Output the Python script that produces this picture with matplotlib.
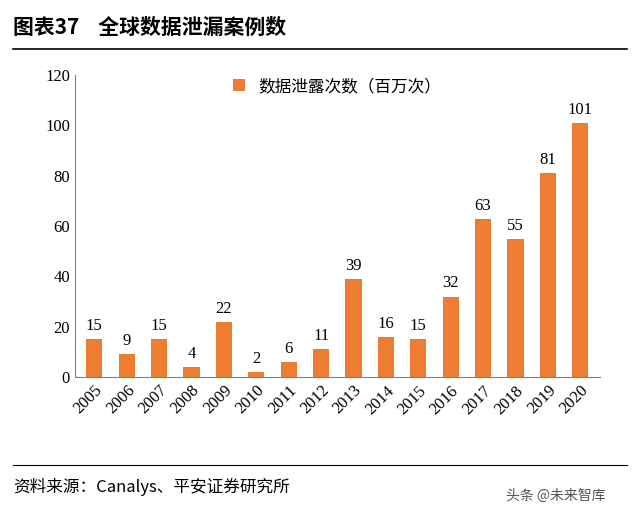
import matplotlib.pyplot as plt
from matplotlib.lines import Line2D

years = [str(y) for y in range(2005, 2021)]
counts = [15, 9, 15, 4, 22, 2, 6, 11, 39, 16, 15, 32, 63, 55, 81, 101]
yticks = [0, 20, 40, 60, 80, 100, 120]

cjk = "Noto Sans CJK SC"
serif = "Liberation Serif"
orange = "#ED7D31"

fig = plt.figure(figsize=(6.4, 5.15), dpi=100)
ax = fig.add_axes([0.117, 0.268, 0.82, 0.586])
x = range(len(years))
bars = ax.bar(x, counts, width=0.5, color=orange, label="数据泄露次数（百万次）")
for xi, v in zip(x, counts):
    ax.text(xi, v + 2, str(v), ha="center", va="bottom", fontsize=12, fontfamily=serif)
ax.set_ylim(0, 120)
ax.set_xlim(-0.6, len(years) - 0.4)
ax.set_yticks(yticks)
ax.set_yticklabels([str(t) for t in yticks], fontfamily=serif, fontsize=12)
ax.set_xticks(list(x))
ax.set_xticklabels(years, rotation=45, ha="right", rotation_mode="anchor", fontfamily=serif, fontsize=12)
ax.tick_params(axis="x", length=0, pad=4)
ax.tick_params(axis="y", length=0)
for s in ["top", "right"]:
    ax.spines[s].set_visible(False)
ax.spines["left"].set_color("#808080")
ax.spines["bottom"].set_color("#808080")
ax.legend(loc="upper center", frameon=False, prop={"family": cjk, "size": 12},
          handlelength=0.7, handleheight=0.7, bbox_to_anchor=(0.5, 1.04))

fig.text(0.02, 0.935, "图表37    全球数据泄漏案例数", fontfamily=cjk, fontsize=15, fontweight="bold")
fig.add_artist(Line2D([0.02, 0.98], [0.905, 0.905], color="black", lw=1.2))
fig.add_artist(Line2D([0.02, 0.98], [0.097, 0.097], color="black", lw=0.8))
fig.text(0.02, 0.045, "资料来源：Canalys、平安证券研究所", fontfamily=cjk, fontsize=12, style="italic")
fig.text(0.79, 0.03, "头条 @未来智库", fontfamily=cjk, fontsize=10, color="#555555")
fig.savefig("out.png", dpi=100)
